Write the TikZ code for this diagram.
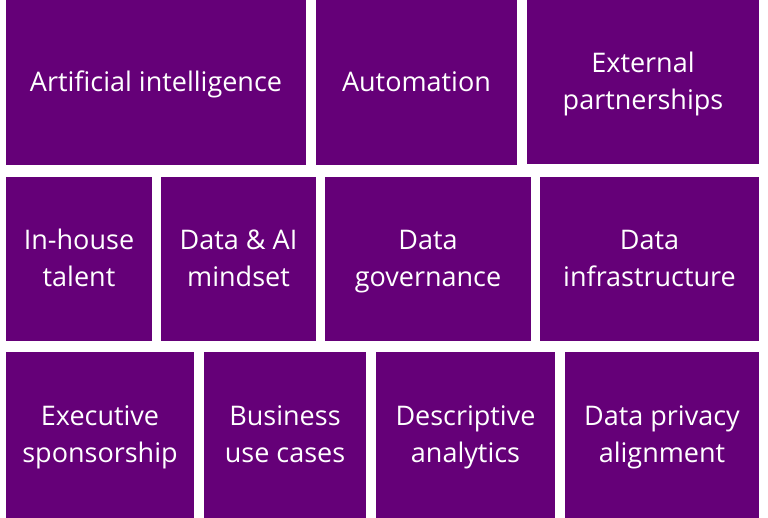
\documentclass[tikz,border=0pt]{standalone}
\usepackage{fontspec}
\setmainfont{Open Sans}
\definecolor{pp}{HTML}{650078}
\begin{document}
\begin{tikzpicture}[x=1pt,y=-1pt,
  tile/.style={fill=none,draw=none,text=white,align=center,font=\fontsize{27}{37}\selectfont}]
\useasboundingbox (0,0) rectangle (768,518);
\def\tile#1#2#3#4#5#6{\fill[pp] (#2,#3) rectangle (#4,#5); \node[tile] (#1) at ({(#2+#4)/2},{(#3+#5)/2+2}) {\strut#6\strut};}
\tile{a}{6}{0}{306}{165}{Artificial intelligence}
\tile{b}{316}{0}{517}{165}{Automation}
\tile{c}{527}{0}{759}{164}{External\\partnerships}
\tile{d}{6}{177}{152}{341}{In-house\\talent}
\tile{e}{161}{177}{316}{341}{Data \& AI\\mindset}
\tile{f}{325}{177}{531}{341}{Data\\governance}
\tile{g}{540}{177}{759}{341}{Data\\infrastructure}
\tile{h}{6}{352}{194}{518}{Executive\\sponsorship}
\tile{i}{204}{352}{366}{518}{Business\\use cases}
\tile{j}{376}{352}{555}{518}{Descriptive\\analytics}
\tile{k}{565}{352}{759}{518}{Data privacy\\alignment}
\end{tikzpicture}
\end{document}
